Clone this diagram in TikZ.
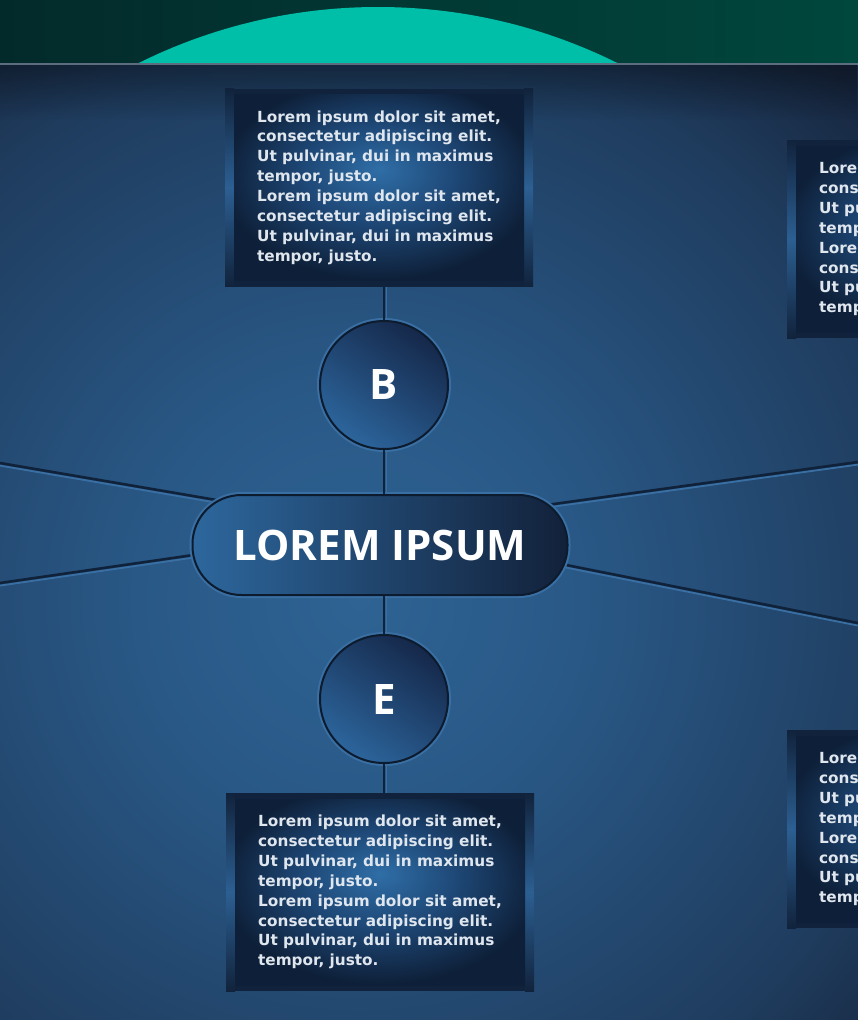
\documentclass[tikz,border=0pt]{standalone}
\usepackage{fontspec}
\setmainfont{DejaVu Sans}
\newfontfamily\headfont{Open Sans}
\newfontfamily\bodyfont{DejaVu Sans}
\usetikzlibrary{fadings}

\definecolor{bandL}{HTML}{032A2B}
\definecolor{bandR}{HTML}{00473D}
\definecolor{tealc}{HTML}{00BFA8}
\definecolor{edgeline}{HTML}{5B6D7E}
\definecolor{bg0}{HTML}{2E6393}
\definecolor{bg1}{HTML}{295886}
\definecolor{bg2}{HTML}{1F3C5E}
\definecolor{bg3}{HTML}{17263E}
\definecolor{frame}{HTML}{11233C}
\definecolor{strip}{HTML}{2C5F92}
\definecolor{bxA}{HTML}{2F6EA6}
\definecolor{bxB}{HTML}{1E4877}
\definecolor{bxC}{HTML}{0E2039}
\definecolor{boxtxt}{HTML}{DFE6EE}
\definecolor{cdark}{HTML}{0D1B2E}
\definecolor{rim}{HTML}{3A6FA3}
\definecolor{ctop}{HTML}{15284A}
\definecolor{cbot}{HTML}{2C659C}
\definecolor{pillL}{HTML}{2D679D}
\definecolor{pillR}{HTML}{12213A}
\definecolor{lnDark}{HTML}{0F223A}
\definecolor{lnLite}{HTML}{3A6FA3}

% path bbox half-size corresponds to 25bp
\pgfdeclareradialshading{bgshade}{\pgfpoint{0bp}{0bp}}{color(0bp)=(bg0); color(5bp)=(bg1); color(12.5bp)=(bg2); color(16bp)=(bg3); color(50bp)=(bg3)}
\pgfdeclareradialshading{boxshade}{\pgfpoint{0bp}{5bp}}{color(0bp)=(bxA); color(13bp)=(bxB); color(27bp)=(bxC); color(50bp)=(bxC)}

\newcommand\loremtxt{Lorem ipsum dolor sit amet,\\consectetur adipiscing elit.\\Ut pulvinar, dui in maximus\\tempor, justo.\\Lorem ipsum dolor sit amet,\\consectetur adipiscing elit.\\Ut pulvinar, dui in maximus\\tempor, justo.}

\tikzset{
  boxnode/.style={rectangle, inner xsep=32pt, inner ysep=0pt, minimum width=308pt,
    minimum height=198pt, align=left, text=boxtxt,
    font=\bodyfont\bfseries\fontsize{15.3}{19.9}\selectfont, fill=frame,
    path picture={
      \shade[top color=frame, bottom color=frame, middle color=strip]
        (path picture bounding box.north west) rectangle ([xshift=9pt]path picture bounding box.south west);
      \shade[top color=frame, bottom color=frame, middle color=strip]
        (path picture bounding box.north east) rectangle ([xshift=-9pt]path picture bounding box.south east);
      \shade[shading=boxshade]
        ([xshift=9pt,yshift=-6pt]path picture bounding box.north west) rectangle
        ([xshift=-9pt,yshift=6pt]path picture bounding box.south east);
    }},
  circnode/.style={circle, minimum size=128pt, inner sep=0pt, draw=cdark, line width=2pt,
    top color=ctop, bottom color=cbot, shading angle=-35, text=white,
    font=\headfont\bfseries\fontsize{42}{42}\selectfont,
    preaction={draw=rim, line width=6pt}},
  hubnode/.style={rectangle, rounded corners=49pt, minimum width=375pt, minimum height=100pt,
    draw=cdark, line width=2pt, left color=pillL, right color=pillR, text=white,
    font=\headfont\bfseries\fontsize{42}{42}\selectfont,
    preaction={draw=rim, line width=6pt}},
  conndark/.style={draw=lnDark, line width=2.6pt},
  connlite/.style={draw=lnLite, line width=1.8pt},
}

\begin{document}
\begin{tikzpicture}[x=1pt, y=-1pt]
\useasboundingbox (0,0) rectangle (858,1020);
\clip (0,0) rectangle (858,1020);

% top band with the teal disc
\begin{scope}
  \clip (0,0) rectangle (858,65);
  \shade[left color=bandL, right color=bandR] (0,0) rectangle (858,65);
  \fill[tealc] (378,545) circle (538pt);
\end{scope}

% panel
\begin{scope}
  \clip (0,64) rectangle (858,1020);
  \shade[shading=bgshade] (360,600) circle (1120pt);
  \fill[black, path fading=south, fill opacity=0.35] (0,65) rectangle (858,120);
\end{scope}
\draw[edgeline, line width=1.6pt] (0,64) -- (858,64);

% radial connectors behind the hub
\coordinate (hubc) at (380,528);
\coordinate (L1) at (0,463);
\coordinate (L2) at (0,583);
\coordinate (R1) at (858,462);
\coordinate (R2) at (858,623);
\foreach \e in {L1,L2,R1,R2}{
  \draw[connlite, transform canvas={yshift=-2.6pt}] (hubc) -- (\e);
  \draw[conndark] (hubc) -- (\e);
}

% nodes
\node[boxnode] (tb) at (379,187.5) {\loremtxt};
\node[boxnode] (rt) at (941,239) {\loremtxt};
\node[boxnode] (bb) at (380,892) {\loremtxt};
\node[boxnode] (rb) at (941,829) {\loremtxt};

\node[hubnode] (hub) at (380,545) {LOREM IPSUM};
\node[circnode] (nb) at (384,385) {B};
\node[circnode] (ne) at (384,699) {E};

% vertical connectors
\foreach \a/\b in {nb.north/tb.south, nb.south/hub.north, ne.north/hub.south, ne.south/bb.north}{
  \draw[connlite, transform canvas={xshift=2.4pt}] (\a) -- (\a |- \b);
  \draw[conndark] (\a) -- (\a |- \b);
}
\end{tikzpicture}
\end{document}
